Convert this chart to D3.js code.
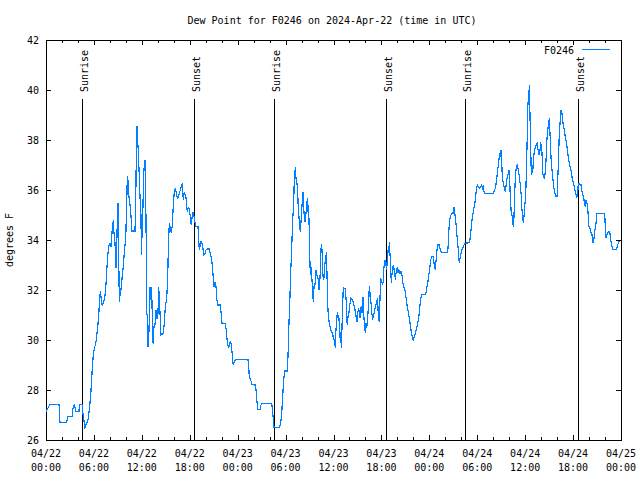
<!DOCTYPE html>
<html>
<head>
<meta charset="utf-8">
<script src="https://cdn.jsdelivr.net/npm/d3@7"></script>
<style>
  html, body { margin: 0; padding: 0; background: #fff; }
  svg { display: block; }
  text { font-family: "DejaVu Sans Mono", "Liberation Mono", monospace; font-size: 10px; fill: #000; }
</style>
</head>
<body>
<svg id="chart" width="640" height="480"></svg>
<script>
// ---------------- data ----------------
const titleText = "Dew Point for F0246 on 2024-Apr-22 (time in UTC)";
const yLabelText = "degrees F";
const seriesName = "F0246";
const startTime = "2024-04-22T00:00:00Z";
const endTime = "2024-04-25T00:00:00Z";
const yTicks = [26, 28, 30, 32, 34, 36, 38, 40, 42];
const sunEvents = [
  { label: "Sunrise", time: "2024-04-22T04:31:00Z" },
  { label: "Sunset",  time: "2024-04-22T18:32:00Z" },
  { label: "Sunrise", time: "2024-04-23T04:33:00Z" },
  { label: "Sunset",  time: "2024-04-23T18:37:00Z" },
  { label: "Sunrise", time: "2024-04-24T04:28:00Z" },
  { label: "Sunset",  time: "2024-04-24T18:37:00Z" }
];
// readings: [hours since 2024-04-22 00:00 UTC, dew point °F]
const dewPoint = [[0,27.13],[0.50,27.43],[1.63,27.43],[1.75,26.71],[2.59,26.71],[2.75,26.93],[3.29,26.93],[3.34,27.2],[3.54,27.43],[3.76,27.13],[4.13,27.13],[4.17,27.43],[4.51,27.43],[4.60,27.13],[4.80,26.67],[4.85,26.43],[4.97,26.6],[5.13,26.71],[5.30,26.87],[5.42,27.2],[5.51,27.5],[5.63,27.96],[5.72,28.43],[5.80,28.91],[5.92,29.4],[6.05,29.67],[6.22,29.84],[6.35,30.16],[6.47,30.49],[6.60,31.0],[6.72,31.63],[6.80,31.96],[6.92,31.63],[7.05,31.36],[7.17,31.5],[7.35,31.67],[7.48,32.07],[7.60,32.73],[7.73,33.36],[7.85,33.76],[8.01,33.87],[8.14,33.71],[8.30,34.47],[8.43,34.8],[8.51,34.3],[8.64,33.88],[8.77,32.87],[8.85,33.6],[8.93,34.84],[9.02,35.47],[9.18,31.53],[9.27,31.8],[9.39,32.03],[9.55,32.56],[9.68,32.93],[9.80,33.47],[9.98,34.07],[10.11,35.44],[10.18,36.56],[10.27,36.35],[10.36,35.8],[10.52,35.4],[10.64,34.96],[10.77,34.36],[11.14,34.36],[11.23,35.4],[11.31,37.49],[11.39,38.56],[11.48,37.93],[11.56,37.53],[11.65,36.8],[11.77,35.73],[11.90,34.93],[11.93,33.4],[12.11,34.93],[12.23,36.6],[12.31,37.0],[12.40,37.2],[12.48,36.0],[12.56,33.5],[12.61,31.07],[12.68,31.0],[12.77,29.73],[12.90,30.4],[13.02,32.13],[13.11,31.6],[13.19,32.13],[13.27,31.53],[13.36,30.0],[13.44,29.84],[13.52,30.53],[13.65,30.6],[13.77,31.2],[13.90,30.83],[14.02,31.07],[14.11,32.13],[14.19,31.6],[14.31,30.87],[14.40,30.2],[14.56,30.24],[14.69,30.27],[14.81,30.67],[14.94,31.33],[15.11,31.67],[15.24,32.47],[15.31,33.6],[15.36,34.0],[15.44,34.69],[15.56,34.47],[15.69,34.27],[15.81,34.57],[15.94,35.4],[16.07,35.93],[16.19,36.07],[16.32,35.87],[16.44,35.67],[16.57,35.73],[16.69,35.87],[16.82,36.0],[16.94,36.16],[17.07,36.27],[17.19,35.6],[17.32,35.9],[17.53,35.7],[17.69,35.13],[17.82,35.3],[17.94,35.27],[18.07,34.93],[18.19,34.6],[18.32,35.0],[18.44,35.13],[18.57,34.87],[18.74,34.53],[19.03,34.53],[19.12,34.0],[19.20,33.6],[19.37,33.93],[19.50,33.93],[19.62,33.73],[19.78,33.4],[19.91,33.47],[20.03,33.6],[20.20,33.64],[20.45,33.64],[20.57,33.47],[20.75,33.2],[20.87,32.8],[21.04,32.13],[21.16,32.33],[21.29,32.13],[21.37,31.67],[21.50,31.4],[21.79,31.4],[21.91,31.13],[22.04,30.67],[22.41,30.67],[22.54,30.47],[22.63,30.13],[22.75,29.8],[22.88,29.67],[22.95,29.87],[23.13,29.93],[23.25,29.67],[23.38,29.2],[23.45,29.0],[23.58,29.13],[23.75,29.23],[25.29,29.23],[25.38,28.93],[25.46,28.53],[25.63,28.4],[25.79,28.23],[26.17,28.2],[26.30,28.0],[26.42,27.53],[26.51,27.23],[26.80,27.23],[26.92,27.4],[27.08,27.47],[28.26,27.47],[28.39,27.07],[28.51,26.73],[28.55,26.51],[29.21,26.51],[29.39,26.67],[29.51,27.07],[29.64,27.73],[29.76,28.4],[29.89,28.76],[30.22,28.76],[30.30,29.33],[30.39,30.4],[30.52,31.47],[30.64,32.67],[30.77,33.73],[30.89,34.8],[31.02,35.53],[31.09,36.47],[31.22,36.91],[31.30,36.47],[31.39,36.4],[31.52,35.93],[31.59,35.27],[31.72,34.73],[31.84,34.33],[31.93,34.73],[32.06,35.4],[32.18,35.93],[32.31,35.07],[32.43,34.73],[32.56,35.07],[32.68,35.53],[32.77,35.67],[32.84,34.93],[32.93,34.87],[33.02,33.4],[33.10,32.6],[33.18,32.93],[33.27,32.6],[33.40,31.87],[33.47,31.53],[33.56,32.13],[33.68,32.2],[33.81,32.8],[33.93,32.6],[34.06,32.47],[34.18,32.0],[34.31,32.47],[34.40,33.33],[34.47,33.84],[34.56,33.6],[34.65,32.8],[34.72,32.4],[34.85,32.53],[34.94,33.13],[35.02,33.07],[35.10,33.53],[35.19,32.6],[35.27,31.47],[35.35,31.0],[35.47,30.67],[35.60,30.47],[35.72,30.33],[35.90,30.27],[35.98,30.07],[36.10,30.0],[36.23,29.67],[36.31,30.4],[36.40,30.8],[36.48,31.11],[36.56,30.87],[36.65,31.0],[36.73,30.67],[36.81,30.07],[36.90,30.33],[36.98,29.67],[37.06,30.47],[37.15,31.47],[37.23,32.13],[37.31,32.07],[37.44,32.07],[37.57,31.67],[37.65,30.93],[37.73,30.6],[37.82,30.93],[37.90,30.93],[37.98,31.27],[38.07,31.47],[38.15,31.67],[38.32,31.63],[38.40,31.6],[38.53,31.44],[38.65,31.27],[38.78,31.07],[38.86,30.87],[38.94,30.73],[39.03,31.07],[39.15,31.27],[39.23,31.07],[39.32,30.87],[39.41,31.2],[39.48,31.36],[39.57,31.07],[39.69,31.73],[39.78,31.07],[39.86,30.67],[39.98,30.27],[40.07,30.67],[40.16,30.47],[40.28,30.93],[40.41,31.47],[40.48,32.16],[40.57,31.87],[40.70,31.47],[40.78,31.13],[40.91,30.8],[40.98,31.0],[41.11,31.07],[41.23,31.33],[41.32,31.4],[41.45,31.6],[41.53,31.67],[41.61,30.93],[41.74,30.73],[41.82,31.67],[41.91,32.47],[42.04,32.33],[42.16,32.2],[42.24,32.4],[42.32,32.93],[42.45,33.2],[42.57,33.0],[42.66,32.8],[42.79,33.6],[42.91,33.47],[42.99,33.93],[43.07,33.47],[43.16,32.93],[43.24,32.27],[43.33,32.67],[43.41,32.87],[43.49,33.0],[43.58,32.8],[43.66,32.87],[43.74,32.4],[43.83,32.67],[43.91,32.73],[43.99,32.93],[44.08,32.67],[44.16,32.83],[44.24,32.73],[44.33,32.64],[44.45,32.73],[44.58,32.6],[44.70,32.27],[44.83,32.11],[44.99,31.93],[45.12,31.6],[45.24,31.33],[45.37,31.13],[45.49,30.87],[45.62,30.6],[45.74,30.33],[45.87,30.13],[45.99,29.97],[46.12,30.13],[46.24,30.27],[46.42,30.47],[46.54,30.67],[46.67,30.87],[46.79,31.27],[46.92,31.63],[47.04,31.83],[47.55,31.83],[47.67,32.07],[47.80,32.27],[47.92,32.56],[48.05,32.87],[48.17,33.2],[48.30,33.33],[48.50,33.33],[48.62,33.0],[48.75,32.8],[48.83,33.13],[48.92,33.51],[49.05,33.8],[49.25,33.8],[49.37,33.63],[49.50,33.51],[50.30,33.51],[50.38,33.87],[50.46,34.47],[50.59,34.87],[50.71,35.0],[50.84,35.07],[50.96,35.07],[51.09,35.33],[51.18,35.07],[51.30,34.8],[51.43,34.27],[51.55,33.87],[51.68,33.4],[51.75,33.07],[51.84,33.27],[51.93,33.4],[52.05,33.6],[52.18,33.67],[52.30,33.76],[52.43,33.87],[53.01,33.89],[53.13,34.1],[53.26,34.55],[53.38,34.9],[53.51,35.15],[53.63,35.35],[53.76,35.6],[53.88,36.0],[54.01,36.2],[54.18,36.13],[54.31,36.07],[54.43,36.13],[54.56,36.2],[54.68,36.07],[54.76,36.13],[54.88,35.87],[56.01,35.87],[56.19,36.0],[56.31,36.13],[56.44,36.47],[56.56,36.8],[56.69,37.13],[56.81,37.47],[56.89,37.33],[56.97,37.6],[57.06,37.13],[57.14,36.53],[57.26,36.27],[57.39,36.07],[57.51,35.93],[57.64,36.27],[57.76,36.53],[57.89,36.67],[57.98,36.8],[58.06,36.4],[58.14,35.73],[58.26,35.07],[58.39,34.93],[58.51,34.53],[58.60,34.93],[58.69,35.87],[58.77,36.53],[58.89,36.93],[59.02,37.0],[59.14,36.8],[59.27,36.53],[59.39,36.2],[59.52,35.73],[59.60,35.2],[59.69,34.93],[59.77,34.67],[59.85,34.93],[59.98,35.47],[60.10,36.13],[60.19,37.2],[60.27,38.27],[60.35,39.47],[60.44,39.6],[60.52,40.2],[60.61,38.93],[60.69,37.73],[60.77,36.6],[60.86,36.87],[60.94,36.67],[61.02,37.13],[61.14,37.53],[61.27,37.73],[61.39,37.8],[61.52,37.87],[61.61,37.6],[61.73,37.4],[61.86,37.6],[61.94,37.93],[62.02,37.67],[62.11,37.47],[62.19,36.67],[62.32,36.53],[62.44,36.47],[62.57,36.93],[62.65,37.47],[62.73,38.07],[62.86,38.47],[62.95,38.67],[63.02,38.87],[63.11,38.27],[63.20,37.6],[63.27,37.07],[63.36,36.8],[63.45,36.53],[63.57,36.13],[63.70,35.93],[63.82,35.76],[64.02,35.76],[64.11,36.67],[64.20,37.47],[64.27,38.27],[64.40,38.8],[64.49,39.2],[64.57,39.0],[64.65,39.07],[64.74,38.67],[64.86,38.47],[64.99,38.2],[65.11,38.0],[65.24,37.73],[65.36,37.4],[65.49,37.13],[65.61,36.93],[65.74,36.8],[65.86,36.53],[65.99,36.33],[66.11,36.2],[66.24,36.0],[66.37,35.8],[66.45,35.67],[66.58,35.87],[66.65,36.27],[66.78,36.27],[66.90,36.2],[67.03,36.2],[67.12,35.93],[67.24,35.8],[67.37,35.6],[67.45,35.4],[67.53,35.33],[67.62,35.6],[67.74,35.47],[67.83,35.27],[67.91,34.93],[67.99,34.53],[68.12,34.47],[68.21,34.4],[68.28,34.2],[68.37,34.2],[68.49,33.87],[68.62,34.07],[68.74,34.4],[68.87,34.67],[68.99,35.07],[69.96,35.07],[70.03,34.53],[70.12,34.07],[70.21,34.2],[70.33,34.27],[70.46,34.33],[70.59,34.33],[70.71,34.0],[70.84,33.8],[70.96,33.63],[71.46,33.63],[71.59,33.8],[71.71,33.93],[71.88,33.93]];

// ---------------- chart ----------------
const svg = d3.select("#chart");
const padL = 46, padR = 621, padT = 40, padB = 440;
const t0 = new Date(startTime);
const x = d3.scaleUtc().domain([t0, new Date(endTime)]).range([padL, padR]);
const y = d3.scaleLinear().domain([26, 42]).range([padB, padT]);
const toDate = h => new Date(t0.getTime() + h * 3600e3);

const majorTicks = d3.utcHour.every(6).range(t0, new Date(new Date(endTime).getTime() + 1));
const minorTicks = d3.utcHour.every(2).range(t0, new Date(endTime)).filter(d => d.getUTCHours() % 6 !== 0);

const crisp = g => g.attr("shape-rendering", "crispEdges");

// title
svg.append("text").attr("x", 332).attr("y", 24).attr("text-anchor", "middle").text(titleText);

// y label
svg.append("text").attr("transform", "translate(12.5,240) rotate(-90)")
  .attr("text-anchor", "middle").text(yLabelText);

function styleAxis(g) {
  g.select(".domain").remove();
  g.attr("font-family", null).attr("font-size", null);
  g.selectAll(".tick line").attr("stroke", "#000");
  g.call(crisp);
}
const bx = svg.append("g").attr("transform", `translate(0,${padB})`)
  .call(d3.axisBottom(x).tickValues(majorTicks).tickSizeInner(-5).tickSizeOuter(0).tickFormat(""));
styleAxis(bx);
const bxm = svg.append("g").attr("transform", `translate(0,${padB})`)
  .call(d3.axisBottom(x).tickValues(minorTicks).tickSizeInner(-3).tickSizeOuter(0).tickFormat(""));
styleAxis(bxm);
const tx = svg.append("g").attr("transform", `translate(0,${padT})`)
  .call(d3.axisTop(x).tickValues(majorTicks).tickSizeInner(-5).tickSizeOuter(0).tickFormat(""));
styleAxis(tx);
const txm = svg.append("g").attr("transform", `translate(0,${padT})`)
  .call(d3.axisTop(x).tickValues(minorTicks).tickSizeInner(-3).tickSizeOuter(0).tickFormat(""));
styleAxis(txm);

const ly = svg.append("g").attr("transform", `translate(${padL},0)`)
  .call(d3.axisLeft(y).tickValues(yTicks).tickSizeInner(-5).tickSizeOuter(0).tickPadding(7).tickFormat(d3.format("d")));
styleAxis(ly);
ly.selectAll(".tick text").attr("fill", "#000").attr("dy", "0.35em");
const ry = svg.append("g").attr("transform", `translate(${padR},0)`)
  .call(d3.axisRight(y).tickValues(yTicks).tickSizeInner(-5).tickSizeOuter(0).tickFormat(""));
styleAxis(ry);

// x tick labels (two lines)
const fmtDate = d3.utcFormat("%m/%d"), fmtTime = d3.utcFormat("%H:%M");
const xl = svg.append("g");
majorTicks.forEach(d => {
  xl.append("text").attr("x", x(d)).attr("y", 457).attr("text-anchor", "middle").text(fmtDate(d));
  xl.append("text").attr("x", x(d)).attr("y", 471).attr("text-anchor", "middle").text(fmtTime(d));
});

// frame
svg.append("rect").attr("x", padL + 0.5).attr("y", padT + 0.5)
  .attr("width", padR - padL).attr("height", padB - padT)
  .attr("fill", "none").attr("stroke", "#000").call(crisp);

// sunrise / sunset markers
const sg = svg.append("g");
sunEvents.forEach(e => {
  const xp = Math.round(x(new Date(e.time)));
  sg.append("line").attr("x1", xp + 0.5).attr("x2", xp + 0.5).attr("y1", 99).attr("y2", padB)
    .attr("stroke", "#000").attr("stroke-width", 1).call(crisp);
  sg.append("text").attr("transform", `translate(${xp + 5.5},92) rotate(-90)`).text(e.label);
});

// data line (aliased, like the original bitmap plot)
const line = d3.line().x(d => x(toDate(d[0]))).y(d => y(d[1]));
svg.append("path").datum(dewPoint).attr("d", line)
  .attr("fill", "none").attr("stroke", "#0080ff").attr("stroke-width", 1.2)
  .attr("stroke-linejoin", "miter").call(crisp);

// legend
svg.append("text").attr("x", 574).attr("y", 53.5).attr("text-anchor", "end").text(seriesName);
svg.append("line").attr("x1", 582).attr("x2", 610).attr("y1", 49.5).attr("y2", 49.5)
  .attr("stroke", "#0080ff").attr("stroke-width", 1).call(crisp);
</script>
</body>
</html>
